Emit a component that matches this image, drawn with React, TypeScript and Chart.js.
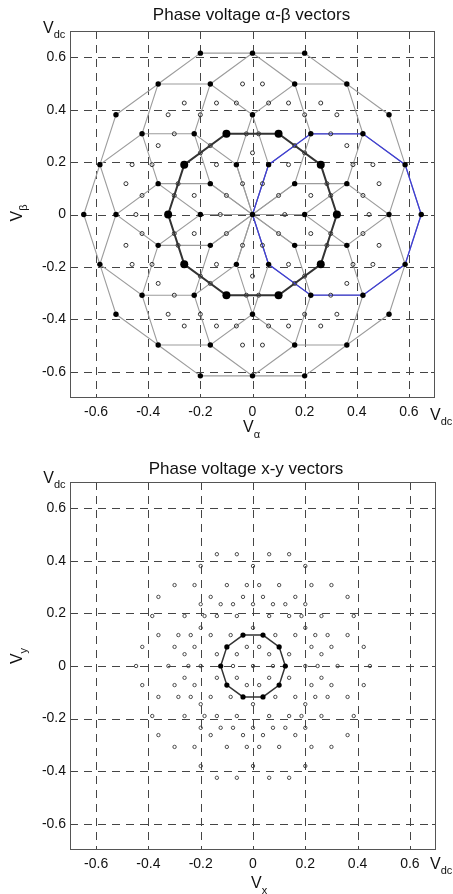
import React, { useEffect, useRef } from "react";
import { Chart, registerables } from "chart.js";

Chart.register(...registerables);

const FONT = "'Liberation Sans', Arial, Helvetica, sans-serif";

type P = [number, number];

// ---- axes ----
const axisMin = -0.7;
const axisMax = 0.7;
const tickValues = [-0.6, -0.4, -0.2, 0, 0.2, 0.4, 0.6];
const tickLabels = ["-0.6", "-0.4", "-0.2", "0", "0.2", "0.4", "0.6"];

// ---- alpha-beta plane (units of Vdc) ----
// filled: 0.647 Vdc ring
const abA: P[] = [[0.6472, 0], [0.5236, 0.3804], [0.2, 0.6155], [-0.2, 0.6155], [-0.5236, 0.3804], [-0.6472, 0], [-0.5236, -0.3804], [-0.2, -0.6155], [0.2, -0.6155], [0.5236, -0.3804]];
// filled: 0.615 Vdc ring
const abB: P[] = [[0.5854, 0.1902], [0.3618, 0.498], [0, 0.6155], [-0.3618, 0.498], [-0.5854, 0.1902], [-0.5854, -0.1902], [-0.3618, -0.498], [0, -0.6155], [0.3618, -0.498], [0.5854, -0.1902]];
// filled: 0.524 Vdc ring
const abC: P[] = [[0.5236, 0], [0.4236, 0.3078], [0.1618, 0.498], [-0.1618, 0.498], [-0.4236, 0.3078], [-0.5236, 0], [-0.4236, -0.3078], [-0.1618, -0.498], [0.1618, -0.498], [0.4236, -0.3078]];
// filled: 0.380 Vdc ring
const abD: P[] = [[0.3618, 0.1176], [0.2236, 0.3078], [0, 0.3804], [-0.2236, 0.3078], [-0.3618, 0.1176], [-0.3618, -0.1176], [-0.2236, -0.3078], [0, -0.3804], [0.2236, -0.3078], [0.3618, -0.1176]];
// large filled: 0.324 Vdc ring
const abE: P[] = [[0.3236, 0], [0.2618, 0.1902], [0.1, 0.3078], [-0.1, 0.3078], [-0.2618, 0.1902], [-0.3236, 0], [-0.2618, -0.1902], [-0.1, -0.3078], [0.1, -0.3078], [0.2618, -0.1902]];
// filled: 0.2 Vdc ring
const abF: P[] = [[0.2, 0], [0.1618, 0.1176], [0.0618, 0.1902], [-0.0618, 0.1902], [-0.1618, 0.1176], [-0.2, 0], [-0.1618, -0.1176], [-0.0618, -0.1902], [0.0618, -0.1902], [0.1618, -0.1176]];
const abOrigin: P[] = [[0, 0]];
// hollow rings
const abG: P[] = [[0.1236, 0], [0.1, 0.0727], [0.0382, 0.1176], [-0.0382, 0.1176], [-0.1, 0.0727], [-0.1236, 0], [-0.1, -0.0727], [-0.0382, -0.1176], [0.0382, -0.1176], [0.1, -0.0727]];
const abH: P[] = [[0.2236, 0.0727], [0.1382, 0.1902], [0, 0.2351], [-0.1382, 0.1902], [-0.2236, 0.0727], [-0.2236, -0.0727], [-0.1382, -0.1902], [0, -0.2351], [0.1382, -0.1902], [0.2236, -0.0727]];
const abI: P[] = [[0.3, 0.0727], [0.2854, 0.1176], [0.2, 0.2352], [0.1618, 0.2629], [0.0236, 0.3078], [-0.0236, 0.3078], [-0.1618, 0.2629], [-0.2, 0.2352], [-0.2854, 0.1176], [-0.3, 0.0727], [-0.3, -0.0727], [-0.2854, -0.1176], [-0.2, -0.2352], [-0.1618, -0.2629], [-0.0236, -0.3078], [0.0236, -0.3078], [0.1618, -0.2629], [0.2, -0.2352], [0.2854, -0.1176], [0.3, -0.0727]];
const abJ: P[] = [[0.4236, 0.0727], [0.3854, 0.1902], [0.3, 0.3078], [0.2, 0.3804], [0.0618, 0.4253], [-0.0618, 0.4253], [-0.2, 0.3804], [-0.3, 0.3078], [-0.3854, 0.1902], [-0.4236, 0.0727], [-0.4236, -0.0727], [-0.3854, -0.1902], [-0.3, -0.3078], [-0.2, -0.3804], [-0.0618, -0.4253], [0.0618, -0.4253], [0.2, -0.3804], [0.3, -0.3078], [0.3854, -0.1902], [0.4236, -0.0727]];
const abK: P[] = [[0.4472, 0], [0.3618, 0.2629], [0.1382, 0.4253], [-0.1382, 0.4253], [-0.3618, 0.2629], [-0.4472, 0], [-0.3618, -0.2629], [-0.1382, -0.4253], [0.1382, -0.4253], [0.3618, -0.2629]];
const abL: P[] = [[0.4854, 0.1176], [0.4618, 0.1902], [0.3236, 0.3804], [0.2618, 0.4253], [0.0382, 0.498], [-0.0382, 0.498], [-0.2618, 0.4253], [-0.3236, 0.3804], [-0.4618, 0.1902], [-0.4854, 0.1176], [-0.4854, -0.1176], [-0.4618, -0.1902], [-0.3236, -0.3804], [-0.2618, -0.4253], [-0.0382, -0.498], [0.0382, -0.498], [0.2618, -0.4253], [0.3236, -0.3804], [0.4618, -0.1902], [0.4854, -0.1176]];

// mesh of sector decagons (vertex labels into the rings above)
const abMeshPaths = [
  "A0 B0 C1 D1 F2 O F8 D8 C9 B9 A0",
  "A1 B1 C2 D2 F3 O F9 D9 C0 B0 A1",
  "A2 B2 C3 D3 F4 O F0 D0 C1 B1 A2",
  "A3 B3 C4 D4 F5 O F1 D1 C2 B2 A3",
  "A4 B4 C5 D5 F6 O F2 D2 C3 B3 A4",
  "A5 B5 C6 D6 F7 O F3 D3 C4 B4 A5",
  "A6 B6 C7 D7 F8 O F4 D4 C5 B5 A6",
  "A7 B7 C8 D8 F9 O F5 D5 C6 B6 A7",
  "A8 B8 C9 D9 F0 O F6 D6 C7 B7 A8",
  "A9 B9 C0 D0 F1 O F7 D7 C8 B8 A9",
];
const abBluePath = "A0 B0 C1 D1 F2 O F8 D8 C9 B9 A0";
const abDarkRing = "E0 E1 E2 E3 E4 E5 E6 E7 E8 E9 E0";

// ---- x-y plane (units of Vdc) ----
const xyInner: P[] = [[0.1236, 0], [0.1, 0.0727], [0.0382, 0.1176], [-0.0382, 0.1176], [-0.1, 0.0727], [-0.1236, 0], [-0.1, -0.0727], [-0.0382, -0.1176], [0.0382, -0.1176], [0.1, -0.0727]];
const xyInnerRing = "G0 G1 G2 G3 G4 G5 G6 G7 G8 G9 G0";
const xyR076: P[] = [[0.0764, 0], [0.0618, 0.0449], [0.0236, 0.0727], [-0.0236, 0.0727], [-0.0618, 0.0449], [-0.0764, 0], [-0.0618, -0.0449], [-0.0236, -0.0727], [0.0236, -0.0727], [0.0618, -0.0449]];
const xyR145: P[] = [[0.1382, 0.0449], [0.0854, 0.1176], [0, 0.1453], [-0.0854, 0.1176], [-0.1382, 0.0449], [-0.1382, -0.0449], [-0.0854, -0.1176], [0, -0.1453], [0.0854, -0.1176], [0.1382, -0.0449]];
const xyR200: P[] = [[0.2, 0], [0.1618, 0.1176], [0.0618, 0.1902], [-0.0618, 0.1902], [-0.1618, 0.1176], [-0.2, 0], [-0.1618, -0.1176], [-0.0618, -0.1902], [0.0618, -0.1902], [0.1618, -0.1176]];
const xyR235: P[] = [[0.2236, 0.0727], [0.1382, 0.1902], [0, 0.2351], [-0.1382, 0.1902], [-0.2236, 0.0727], [-0.2236, -0.0727], [-0.1382, -0.1902], [0, -0.2351], [0.1382, -0.1902], [0.2236, -0.0727]];
const xyR247: P[] = [[0.2472, 0], [0.2, 0.1453], [0.0764, 0.2351], [-0.0764, 0.2351], [-0.2, 0.1453], [-0.2472, 0], [-0.2, -0.1453], [-0.0764, -0.2351], [0.0764, -0.2351], [0.2, -0.1453]];
const xyR266: P[] = [[0.2618, 0.0449], [0.2382, 0.1176], [0.1854, 0.1902], [0.1236, 0.2351], [0.0382, 0.2629], [-0.0382, 0.2629], [-0.1236, 0.2351], [-0.1854, 0.1902], [-0.2382, 0.1176], [-0.2618, 0.0449], [-0.2618, -0.0449], [-0.2382, -0.1176], [-0.1854, -0.1902], [-0.1236, -0.2351], [-0.0382, -0.2629], [0.0382, -0.2629], [0.1236, -0.2351], [0.1854, -0.1902], [0.2382, -0.1176], [0.2618, -0.0449]];
const xyR309: P[] = [[0.3, 0.0727], [0.2854, 0.1176], [0.2, 0.2352], [0.1618, 0.2629], [0.0236, 0.3078], [-0.0236, 0.3078], [-0.1618, 0.2629], [-0.2, 0.2352], [-0.2854, 0.1176], [-0.3, 0.0727], [-0.3, -0.0727], [-0.2854, -0.1176], [-0.2, -0.2352], [-0.1618, -0.2629], [-0.0236, -0.3078], [0.0236, -0.3078], [0.1618, -0.2629], [0.2, -0.2352], [0.2854, -0.1176], [0.3, -0.0727]];
const xyR324: P[] = [[0.3236, 0], [0.2618, 0.1902], [0.1, 0.3078], [-0.1, 0.3078], [-0.2618, 0.1902], [-0.3236, 0], [-0.2618, -0.1902], [-0.1, -0.3078], [0.1, -0.3078], [0.2618, -0.1902]];
const xyR380: P[] = [[0.3618, 0.1176], [0.2236, 0.3078], [0, 0.3804], [-0.2236, 0.3078], [-0.3618, 0.1176], [-0.3618, -0.1176], [-0.2236, -0.3078], [0, -0.3804], [0.2236, -0.3078], [0.3618, -0.1176]];
const xyR430: P[] = [[0.4236, 0.0727], [0.3854, 0.1902], [0.3, 0.3078], [0.2, 0.3804], [0.0618, 0.4253], [-0.0618, 0.4253], [-0.2, 0.3804], [-0.3, 0.3078], [-0.3854, 0.1902], [-0.4236, 0.0727], [-0.4236, -0.0727], [-0.3854, -0.1902], [-0.3, -0.3078], [-0.2, -0.3804], [-0.0618, -0.4253], [0.0618, -0.4253], [0.2, -0.3804], [0.3, -0.3078], [0.3854, -0.1902], [0.4236, -0.0727]];
const xyR447: P[] = [[0.4472, 0], [0.3618, 0.2629], [0.1382, 0.4253], [-0.1382, 0.4253], [-0.3618, 0.2629], [-0.4472, 0], [-0.3618, -0.2629], [-0.1382, -0.4253], [0.1382, -0.4253], [0.3618, -0.2629]];
const xyOrigin: P[] = [[0, 0]];

// ---- helpers ----
const toXY = (...groups: P[][]) => groups.flat().map(([x, y]) => ({ x, y }));

function pathFrom(labels: string, lookup: Record<string, P[]>) {
  return labels.split(" ").map((l) => {
    if (l === "O") return { x: 0, y: 0 };
    const p = lookup[l[0]][parseInt(l.slice(1), 10)];
    return { x: p[0], y: p[1] };
  });
}

const abLookup: Record<string, P[]> = { A: abA, B: abB, C: abC, D: abD, E: abE, F: abF };
const xyLookup: Record<string, P[]> = { G: xyInner };

const lineDs = (data: any[], color: string, width: number, order: number) => ({
  data,
  showLine: true,
  borderColor: color,
  borderWidth: width,
  pointRadius: 0,
  pointHoverRadius: 0,
  fill: false,
  tension: 0,
  order,
});

const pointDs = (data: any[], radius: number, fill: string, stroke: string, bw: number, order: number) => ({
  data,
  showLine: false,
  pointRadius: radius,
  pointHoverRadius: radius,
  pointBackgroundColor: fill,
  pointBorderColor: stroke,
  pointBorderWidth: bw,
  backgroundColor: fill,
  borderColor: stroke,
  order,
});

type Decor = {
  title: string;
  titleX: number;
  titleY: number;
  vdcTop: [number, number];
  vdcRight: [number, number];
  xLab: { sub: string; x: number; y: number };
  yLab: { sub: string; x: number; y: number };
};

function drawVSub(ctx: CanvasRenderingContext2D, x: number, y: number, sub: string, subDy: number) {
  ctx.font = `16px ${FONT}`;
  ctx.fillText("V", x, y);
  const w = ctx.measureText("V").width;
  ctx.font = `11px ${FONT}`;
  ctx.fillText(sub, x + w, y + subDy);
}

function makeDecor(d: Decor) {
  return {
    id: "decor",
    beforeDatasetsDraw(chart: any) {
      const { ctx, chartArea: a, scales } = chart;
      const xs = scales.x;
      const ys = scales.y;
      ctx.save();
      ctx.strokeStyle = "#454545";
      ctx.lineWidth = 1;
      ctx.setLineDash([8, 6]);
      for (const v of tickValues) {
        const px = Math.round(xs.getPixelForValue(v)) + 0.5;
        ctx.beginPath();
        ctx.moveTo(px, a.top);
        ctx.lineTo(px, a.bottom);
        ctx.stroke();
        const py = Math.round(ys.getPixelForValue(v)) + 0.5;
        ctx.beginPath();
        ctx.moveTo(a.left, py);
        ctx.lineTo(a.right, py);
        ctx.stroke();
      }
      ctx.setLineDash([]);
      ctx.strokeStyle = "#444";
      const tl = 4;
      for (const v of tickValues) {
        const px = Math.round(xs.getPixelForValue(v)) + 0.5;
        const py = Math.round(ys.getPixelForValue(v)) + 0.5;
        ctx.beginPath();
        ctx.moveTo(px, a.top); ctx.lineTo(px, a.top + tl);
        ctx.moveTo(px, a.bottom); ctx.lineTo(px, a.bottom - tl);
        ctx.moveTo(a.left, py); ctx.lineTo(a.left + tl, py);
        ctx.moveTo(a.right, py); ctx.lineTo(a.right - tl, py);
        ctx.stroke();
      }
      ctx.strokeStyle = "#555";
      ctx.strokeRect(Math.round(a.left) + 0.5, Math.round(a.top) + 0.5, Math.round(a.right - a.left) - 1, Math.round(a.bottom - a.top) - 1);
      ctx.restore();
    },
    afterDraw(chart: any) {
      const { ctx } = chart;
      ctx.save();
      ctx.fillStyle = "#111";
      ctx.textBaseline = "alphabetic";
      ctx.textAlign = "center";
      ctx.font = `17px ${FONT}`;
      ctx.fillText(d.title, d.titleX, d.titleY);
      ctx.textAlign = "left";
      // Vdc labels
      ctx.font = `16px ${FONT}`;
      ctx.fillText("V", d.vdcTop[0], d.vdcTop[1]);
      const w = ctx.measureText("V").width;
      ctx.font = `11px ${FONT}`;
      ctx.fillText("dc", d.vdcTop[0] + w, d.vdcTop[1] + 5);
      ctx.font = `16px ${FONT}`;
      ctx.fillText("V", d.vdcRight[0], d.vdcRight[1]);
      ctx.font = `11px ${FONT}`;
      ctx.fillText("dc", d.vdcRight[0] + w, d.vdcRight[1] + 5);
      // x label
      drawVSub(ctx, d.xLab.x, d.xLab.y, d.xLab.sub, 6);
      // y label rotated
      ctx.save();
      ctx.translate(d.yLab.x, d.yLab.y);
      ctx.rotate(-Math.PI / 2);
      ctx.font = `16px ${FONT}`;
      const wv = ctx.measureText("V").width;
      ctx.font = `11px ${FONT}`;
      const ws = ctx.measureText(d.yLab.sub).width;
      const start = -(wv + ws) / 2;
      drawVSub(ctx, start, 0, d.yLab.sub, 5);
      ctx.restore();
      ctx.restore();
    },
  };
}

function scaleOpts(axis: "x" | "y", size: number, padding: number) {
  return {
    type: "linear" as const,
    min: axisMin,
    max: axisMax,
    grid: { display: false, drawTicks: false },
    border: { display: false },
    afterBuildTicks: (s: any) => {
      s.ticks = tickValues.map((v) => ({ value: v }));
    },
    afterFit: (s: any) => {
      if (axis === "x") s.height = size;
      else s.width = size;
    },
    ticks: {
      padding,
      color: "#111",
      autoSkip: false,
      maxRotation: 0,
      font: { family: FONT, size: 14 },
      callback: (_v: any, i: number) => tickLabels[i],
    },
  };
}

function baseOptions(padTop: number, padRight: number, xHeight: number) {
  return {
    animation: false as const,
    responsive: false,
    maintainAspectRatio: false,
    events: [] as any[],
    layout: { padding: { top: padTop, right: padRight, left: 0, bottom: 0 } },
    plugins: { legend: { display: false }, tooltip: { enabled: false }, title: { display: false } },
    scales: { x: scaleOpts("x", xHeight, 6), y: scaleOpts("y", 70, 4) },
  };
}

export default function App() {
  const topRef = useRef<HTMLCanvasElement>(null);
  const botRef = useRef<HTMLCanvasElement>(null);

  useEffect(() => {
    const meshSets = abMeshPaths.map((p) => lineDs(pathFrom(p, abLookup), "#9c9c9c", 1.1, 6));
    const top = new Chart(topRef.current as HTMLCanvasElement, {
      type: "scatter",
      data: {
        datasets: [
          pointDs(toXY(abE), 4, "#000", "#000", 0, 0),
          pointDs(toXY(abA, abB, abC, abD, abF, abOrigin), 2.7, "#000", "#000", 0, 1),
          pointDs(toXY(abG, abH, abI, abJ, abK, abL), 2, "rgba(255,255,255,0)", "#333", 1, 2),
          lineDs(pathFrom(abBluePath, abLookup), "#3c3cd8", 1.3, 3),
          lineDs(pathFrom(abDarkRing, abLookup), "#333333", 2, 4),
          ...meshSets,
        ] as any,
      },
      options: baseOptions(31, 18, 42) as any,
      plugins: [
        makeDecor({
          title: "Phase voltage α-β vectors",
          titleX: 251.5,
          titleY: 20,
          vdcTop: [43, 33],
          vdcRight: [430, 420],
          xLab: { sub: "α", x: 243, y: 431.5 },
          yLab: { sub: "β", x: 22, y: 213 },
        }),
      ],
    });

    const bot = new Chart(botRef.current as HTMLCanvasElement, {
      type: "scatter",
      data: {
        datasets: [
          pointDs(toXY(xyInner), 2.6, "#000", "#000", 0, 0),
          pointDs(
            toXY(xyOrigin, xyR076, xyR145, xyR200, xyR235, xyR247, xyR266, xyR309, xyR324, xyR380, xyR430, xyR447),
            1.7, "rgba(255,255,255,0)", "#3a3a3a", 0.9, 1
          ),
          lineDs(pathFrom(xyInnerRing, xyLookup), "#333", 1.5, 2),
        ] as any,
      },
      options: baseOptions(42, 17, 44) as any,
      plugins: [
        makeDecor({
          title: "Phase voltage x-y vectors",
          titleX: 246,
          titleY: 34,
          vdcTop: [43.3, 43],
          vdcRight: [430, 429],
          xLab: { sub: "x", x: 251, y: 448 },
          yLab: { sub: "y", x: 22, y: 216 },
        }),
      ],
    });

    return () => {
      top.destroy();
      bot.destroy();
    };
  }, []);

  return (
    <div style={{ position: "absolute", left: 0, top: 0, width: 453, height: 894, background: "#fff" }}>
      <canvas ref={topRef} width={453} height={440} style={{ display: "block", width: 453, height: 440 }} />
      <canvas ref={botRef} width={453} height={454} style={{ display: "block", width: 453, height: 454 }} />
    </div>
  );
}
